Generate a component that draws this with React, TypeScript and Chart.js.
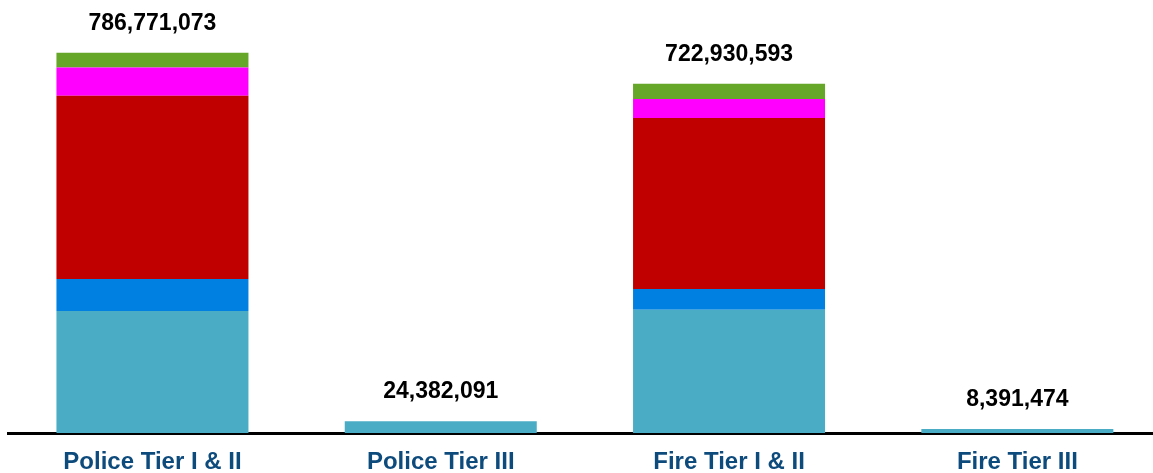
import React, { useEffect, useRef } from "react";
import { Chart, registerables } from "chart.js";

Chart.register(...registerables);

const categories = ["Police Tier I & II", "Police Tier III", "Fire Tier I & II", "Fire Tier III"];
const totals = [786771073, 24382091, 722930593, 8391474];

// Stacked segments (bottom to top), values in dollars
const segment1 = [252300000, 24382091, 255000000, 8391474];
const segment2 = [66400000, 0, 43000000, 0];
const segment3 = [379400000, 0, 353600000, 0];
const segment4 = [58100000, 0, 39500000, 0];
const segment5 = [30571073, 0, 31830593, 0];

const seriesNames = ["Segment 1", "Segment 2", "Segment 3", "Segment 4", "Segment 5"];
const seriesColors = ["#4BACC6", "#0080E0", "#C00000", "#FF00FF", "#66A628"];

const FONT = "Arial, 'Liberation Sans', sans-serif";

const totalsPlugin = {
  id: "totalsPlugin",
  afterDraw(chart: any) {
    const { ctx } = chart;
    const x = chart.scales.x;
    const y = chart.scales.y;
    ctx.save();
    ctx.font = `bold 23px ${FONT}`;
    ctx.fillStyle = "#000000";
    ctx.textAlign = "center";
    ctx.textBaseline = "alphabetic";
    totals.forEach((t, i) => {
      const px = x.getPixelForValue(i);
      const py = y.getPixelForValue(t);
      ctx.fillText(t.toLocaleString("en-US"), px, py - 23);
    });
    ctx.restore();
  },
};

export default function App() {
  const ref = useRef<HTMLCanvasElement | null>(null);
  useEffect(() => {
    if (!ref.current) return;
    const data = [segment1, segment2, segment3, segment4, segment5];
    const chart = new Chart(ref.current, {
      type: "bar",
      data: {
        labels: categories,
        datasets: data.map((d, i) => ({
          label: seriesNames[i],
          data: d,
          backgroundColor: seriesColors[i],
          borderWidth: 0,
          categoryPercentage: 1,
          barPercentage: 0.666,
        })),
      },
      options: {
        animation: false,
        responsive: false,
        devicePixelRatio: 1,
        layout: { padding: { left: 8.3, right: 8.5, top: 0, bottom: 0 } },
        plugins: { legend: { display: false }, tooltip: { enabled: false } },
        scales: {
          x: {
            stacked: true,
            z: 1,
            grid: { display: false, drawTicks: false },
            border: { display: true, color: "#000000", width: 3 },
            ticks: {
              color: "#0E4B7D",
              font: { family: FONT, size: 24, weight: "bold" },
              padding: 15,
              maxRotation: 0,
              autoSkip: false,
            },
            afterFit: (scale: any) => {
              scale.height = 40;
            },
          },
          y: {
            stacked: true,
            display: false,
            min: 0,
            max: 896000000,
          },
        },
      },
      plugins: [totalsPlugin],
    });
    return () => chart.destroy();
  }, []);
  return (
    <div style={{ position: "absolute", left: 0, top: 0, width: 1153, height: 473, overflow: "hidden", background: "#fff" }}>
      <canvas ref={ref} width={1170} height={473} style={{ display: "block" }} />
    </div>
  );
}
